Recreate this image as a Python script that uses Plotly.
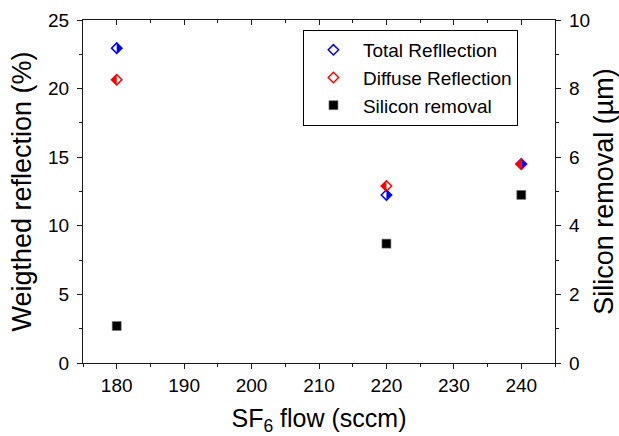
import plotly.graph_objects as go

# SF6 flow settings (sccm) and measured results
sf6_flow = [180, 220, 240]
total_reflection = [22.95, 12.25, 14.5]     # %
diffuse_reflection = [20.65, 12.9, 14.5]    # %
silicon_removal = [1.08, 3.48, 4.9]         # µm

x_ticks = [180, 190, 200, 210, 220, 230, 240]
y_left_ticks = [0, 5, 10, 15, 20, 25]
y_right_ticks = [0, 2, 4, 6, 8, 10]

BLUE = "#0000ff"
RED = "#ff0000"
AXIS = "#1a1a1a"
FONT = "Liberation Sans, Arial, sans-serif"

DIAMOND = 8      # outline diamond size
HALF = 8         # half-fill triangle size

fig = go.Figure()

# outlined diamonds (shown in the legend)
fig.add_trace(go.Scatter(
    x=sf6_flow, y=total_reflection, mode="markers", name="Total Refllection",
    marker=dict(symbol="diamond-open", size=DIAMOND, color=BLUE,
                line=dict(width=1.5, color=BLUE))))
fig.add_trace(go.Scatter(
    x=sf6_flow, y=diffuse_reflection, mode="markers", name="Diffuse Reflection",
    marker=dict(symbol="diamond-open", size=DIAMOND, color=RED,
                line=dict(width=1.5, color=RED))))
# silicon removal on the right-hand axis (top x axis shares the same range)
fig.add_trace(go.Scatter(
    x=sf6_flow, y=silicon_removal, mode="markers", name="Silicon removal",
    xaxis="x2", yaxis="y2",
    marker=dict(symbol="square", size=9, color="black",
                line=dict(width=0.6, color="#777"))))

# filled halves: right half for total, left half for diffuse
fig.add_trace(go.Scatter(
    x=sf6_flow, y=total_reflection, mode="markers", showlegend=False,
    hoverinfo="skip",
    marker=dict(symbol="triangle-down", size=HALF, angle=-90, standoff=HALF / 4,
                color=BLUE, line=dict(width=0))))
fig.add_trace(go.Scatter(
    x=sf6_flow, y=diffuse_reflection, mode="markers", showlegend=False,
    hoverinfo="skip",
    marker=dict(symbol="triangle-down", size=HALF, angle=90, standoff=HALF / 4,
                color=RED, line=dict(width=0))))

axis_common = dict(showline=True, linecolor=AXIS, linewidth=1.3,
                   showgrid=False, zeroline=False, automargin=False,
                   tickcolor=AXIS, tickwidth=1.3,
                   tickfont=dict(size=19, color="black", family=FONT))

fig.update_layout(
    width=619, height=436,
    margin=dict(l=83, r=64, t=20, b=73),
    paper_bgcolor="white", plot_bgcolor="white",
    font=dict(family=FONT, color="black"),
    xaxis=dict(
        **axis_common, range=[175, 245], tickvals=x_ticks,
        ticks="outside", ticklen=5,
        minor=dict(ticks="outside", ticklen=3, dtick=5, tick0=175,
                   tickcolor=AXIS, tickwidth=1.3),
        title=dict(text="SF<sub>6</sub> flow (sccm)", font=dict(size=25), standoff=18),
    ),
    xaxis2=dict(
        **axis_common, range=[175, 245], tickvals=x_ticks, overlaying="x",
        side="top", anchor="y2", ticks="inside", ticklen=5, showticklabels=False,
        minor=dict(ticks="inside", ticklen=3, dtick=5, tick0=175,
                   tickcolor=AXIS, tickwidth=1.3),
    ),
    yaxis=dict(
        **axis_common, range=[0, 25], tickvals=y_left_ticks,
        ticks="outside", ticklen=5, ticklabelstandoff=4,
        minor=dict(ticks="outside", ticklen=3, dtick=2.5,
                   tickcolor=AXIS, tickwidth=1.3),
        title=dict(text="Weigthed reflection (%)", font=dict(size=27), standoff=8),
    ),
    yaxis2=dict(
        **axis_common, range=[0, 10], tickvals=y_right_ticks,
        overlaying="y", side="right", anchor="x",
        ticks="outside", ticklen=5, ticklabelstandoff=4,
        minor=dict(ticks="outside", ticklen=3, dtick=1,
                   tickcolor=AXIS, tickwidth=1.3),
        title=dict(text="Silicon removal (µm)", font=dict(size=27), standoff=12),
    ),
    legend=dict(
        x=0.466, y=0.971, xanchor="left", yanchor="top",
        bgcolor="white", bordercolor="black", borderwidth=1,
        font=dict(size=19, family=FONT, color="black"),
        itemwidth=49, traceorder="normal",
    ),
)

fig.write_html("out.html")
